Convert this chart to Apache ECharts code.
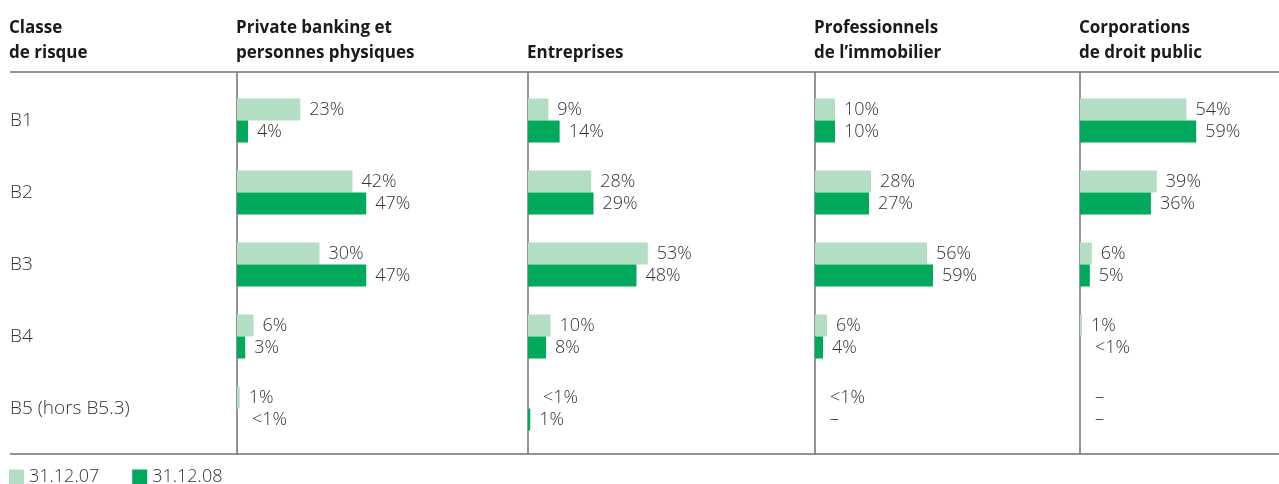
<!DOCTYPE html>
<html>
<head>
<meta charset="utf-8">
<script src="https://cdn.jsdelivr.net/npm/echarts@6/dist/echarts.min.js"></script>
<style>
  html, body { margin: 0; padding: 0; background: #fff; }
  #chart { width: 1279px; height: 484px; }
</style>
</head>
<body>
<div id="chart"></div>
<script>
// Risk classes (rows) and client segments (panels)
const riskClasses = ['B1', 'B2', 'B3', 'B4', 'B5 (hors B5.3)'];
const segments = [
  'Private banking et\npersonnes physiques',
  'Entreprises',
  'Professionnels\nde l\u2019immobilier',
  'Corporations\nde droit public'
];
const seriesNames = ['31.12.07', '31.12.08'];

// Share of each risk class per segment, in %; '<1' = below 1 %, '-' = none
const privateBanking07 = [23, 42, 30, 6, 1];
const privateBanking08 = [4, 47, 47, 3, '<1'];
const entreprises07 = [9, 28, 53, 10, '<1'];
const entreprises08 = [14, 29, 48, 8, 1];
const immobilier07 = [10, 28, 56, 6, '<1'];
const immobilier08 = [10, 27, 59, 4, '-'];
const corporations07 = [54, 39, 6, 1, '-'];
const corporations08 = [59, 36, 5, '<1', '-'];

const panelData = [
  [privateBanking07, privateBanking08],
  [entreprises07, entreprises08],
  [immobilier07, immobilier08],
  [corporations07, corporations08]
];

// Layout
const colors = ['#b3dec4', '#00a95c'];
const textColor = '#333333';
const headColor = '#1a1a1a';
const ruleColor = '#707070';
const panelLeft = [237, 528, 815, 1080];
const panelScale = [2.75, 2.26, 2.0, 1.97];   // px per percentage point
const headerLine = 72;
const footerLine = 454;
const gridTop = 84.5;
const gridHeight = 360;
const labelFont = { fontFamily: 'Open Sans', fontWeight: 300, fontSize: 18, color: textColor };
const headFont = { fontFamily: 'Open Sans', fontWeight: 700, fontSize: 17, color: headColor, lineHeight: 25 };

function labelText(v) {
  if (v === '<1') return '<1%';
  if (v === '-') return '\u2013';
  return v + '%';
}

const grids = [], xAxes = [], yAxes = [], series = [], titles = [];

panelData.forEach((pair, p) => {
  grids.push({
    left: panelLeft[p],
    top: gridTop,
    height: gridHeight,
    width: 100 * panelScale[p],
    containLabel: false
  });
  xAxes.push({
    gridIndex: p, type: 'value', min: 0, max: 100, show: false
  });
  yAxes.push({
    gridIndex: p,
    type: 'category',
    data: riskClasses,
    inverse: true,
    axisLine: { show: false },
    axisTick: { show: false },
    splitLine: { show: false },
    axisLabel: p === 0 ? {
      show: true, align: 'left', margin: panelLeft[0] - 10, ...labelFont, fontSize: 19
    } : { show: false }
  });
  titles.push({
    text: segments[p],
    left: panelLeft[p] - 1,
    top: segments[p].indexOf('\n') >= 0 ? 16 : 41,
    padding: 0,
    textStyle: headFont
  });
  pair.forEach((values, s) => {
    series.push({
      type: 'bar',
      name: seriesNames[s],
      xAxisIndex: p,
      yAxisIndex: p,
      barGap: '0%',
      barCategoryGap: '38.9%',
      itemStyle: { color: colors[s] },
      animation: false,
      data: values.map(v => ({
        value: typeof v === 'number' ? v : 0,
        label: {
          show: true,
          position: 'right',
          distance: typeof v === 'number' ? 9 : 15,
          formatter: labelText(v),
          ...labelFont
        }
      }))
    });
  });
});

titles.push({
  text: 'Classe\nde risque',
  left: 9,
  top: 16,
  padding: 0,
  textStyle: headFont
});

// Table rules: header line, footer line and panel separators
const rules = [
  { type: 'line', shape: { x1: 10, y1: headerLine, x2: 1279, y2: headerLine } },
  { type: 'line', shape: { x1: 10, y1: footerLine, x2: 1279, y2: footerLine } }
].concat(panelLeft.map(x => ({
  type: 'line', shape: { x1: x, y1: headerLine, x2: x, y2: footerLine }
})));
rules.forEach(r => { r.style = { stroke: ruleColor, lineWidth: 1.5 }; r.silent = true; });

const chart = echarts.init(document.getElementById('chart'), null, { renderer: 'canvas' });
chart.setOption({
  backgroundColor: '#fff',
  animation: false,
  title: titles,
  grid: grids,
  xAxis: xAxes,
  yAxis: yAxes,
  series: series,
  legend: {
    data: seriesNames.map((n, i) => ({ name: n, itemStyle: { color: colors[i] } })),
    left: 9,
    top: 468,
    icon: 'rect',
    itemWidth: 15,
    itemHeight: 15,
    itemGap: 33,
    padding: 0,
    textStyle: labelFont
  },
  graphic: rules
});
</script>
</body>
</html>
